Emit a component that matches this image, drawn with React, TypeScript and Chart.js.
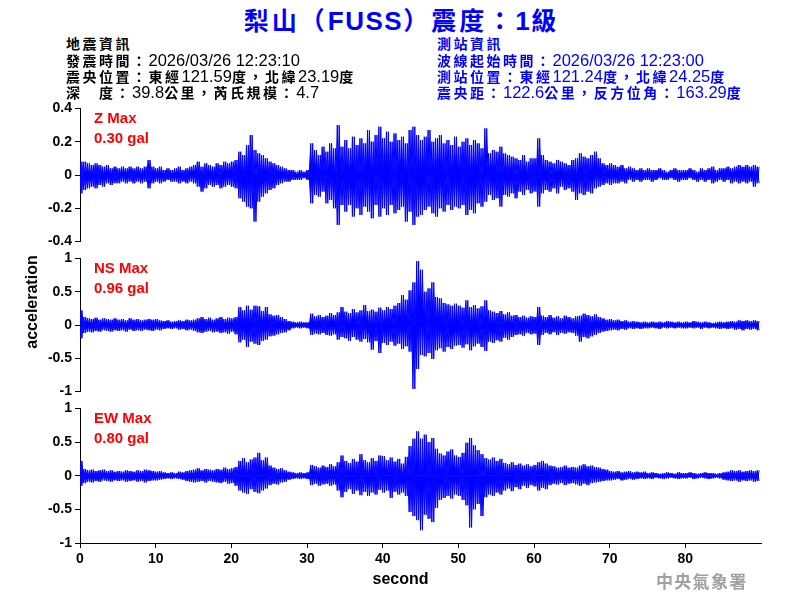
import React, { useEffect, useRef } from 'react';
import { Chart, registerables } from 'chart.js';

Chart.register(...registerables);

// ---- data: waveform envelopes, one value per 0.5 s bin (gal) ----
const BIN_SECONDS = 0.5;
const X_MIN = 0;
const X_MAX = 90;
const X_STEP = 10;

const zUpper = [
  0.08, 0.08, 0.07, 0.06, 0.07, 0.06, 0.05, 0.06, 0.04, 0.05,
  0.04, 0.05, 0.04, 0.05, 0.04, 0.05, 0.04, 0.05, 0.09, 0.05,
  0.04, 0.05, 0.03, 0.04, 0.03, 0.04, 0.05, 0.03, 0.04, 0.05,
  0.06, 0.08, 0.05, 0.07, 0.06, 0.05, 0.07, 0.06, 0.08, 0.07,
  0.08, 0.09, 0.14, 0.12, 0.18, 0.24, 0.15, 0.13, 0.12, 0.10,
  0.08, 0.07, 0.06, 0.05, 0.04, 0.03, 0.03, 0.02, 0.03, 0.02,
  0.03, 0.19, 0.15, 0.12, 0.17, 0.14, 0.19, 0.16, 0.30, 0.17,
  0.21, 0.16, 0.23, 0.18, 0.22, 0.19, 0.27, 0.20, 0.24, 0.29,
  0.22, 0.26, 0.20, 0.25, 0.21, 0.23, 0.19, 0.27, 0.29, 0.24,
  0.21, 0.23, 0.27, 0.20, 0.22, 0.24, 0.19, 0.21, 0.18, 0.23,
  0.17, 0.20, 0.22, 0.18, 0.21, 0.19, 0.16, 0.28, 0.13, 0.15,
  0.14, 0.17, 0.13, 0.12, 0.11, 0.10, 0.09, 0.12, 0.08, 0.10,
  0.10, 0.22, 0.12, 0.09, 0.08, 0.07, 0.09, 0.08, 0.07, 0.06,
  0.09, 0.10, 0.13, 0.11, 0.10, 0.12, 0.14, 0.10, 0.07, 0.06,
  0.07, 0.06, 0.05, 0.06, 0.04, 0.05, 0.04, 0.03, 0.04, 0.03,
  0.04, 0.03, 0.03, 0.04, 0.03, 0.02, 0.03, 0.04, 0.03, 0.03,
  0.03, 0.04, 0.03, 0.02, 0.04, 0.03, 0.04, 0.05, 0.03, 0.04,
  0.04, 0.05, 0.04, 0.05, 0.06, 0.05, 0.06, 0.05, 0.06, 0.05,
];
const zLower = [
  -0.11, -0.09, -0.08, -0.07, -0.08, -0.06, -0.07, -0.05, -0.06, -0.05,
  -0.05, -0.04, -0.05, -0.04, -0.05, -0.04, -0.05, -0.04, -0.08, -0.05,
  -0.04, -0.05, -0.04, -0.03, -0.04, -0.04, -0.05, -0.04, -0.05, -0.04,
  -0.05, -0.07, -0.10, -0.08, -0.06, -0.07, -0.06, -0.08, -0.07, -0.06,
  -0.07, -0.08, -0.14, -0.16, -0.19, -0.20, -0.28, -0.16, -0.13, -0.11,
  -0.09, -0.08, -0.06, -0.05, -0.04, -0.04, -0.03, -0.03, -0.03, -0.02,
  -0.03, -0.17, -0.12, -0.13, -0.10, -0.17, -0.15, -0.20, -0.30, -0.18,
  -0.22, -0.18, -0.25, -0.20, -0.24, -0.19, -0.22, -0.26, -0.18, -0.25,
  -0.20, -0.24, -0.18, -0.23, -0.21, -0.19, -0.28, -0.22, -0.30, -0.25,
  -0.24, -0.21, -0.19, -0.23, -0.25, -0.20, -0.22, -0.18, -0.21, -0.19,
  -0.20, -0.18, -0.24, -0.21, -0.23, -0.17, -0.19, -0.16, -0.12, -0.15,
  -0.14, -0.19, -0.12, -0.13, -0.11, -0.14, -0.10, -0.12, -0.09, -0.11,
  -0.10, -0.19, -0.11, -0.09, -0.10, -0.08, -0.11, -0.07, -0.09, -0.08,
  -0.10, -0.15, -0.11, -0.12, -0.10, -0.11, -0.08, -0.07, -0.06, -0.05,
  -0.06, -0.05, -0.05, -0.04, -0.05, -0.03, -0.04, -0.03, -0.04, -0.03,
  -0.03, -0.04, -0.03, -0.02, -0.03, -0.03, -0.02, -0.03, -0.04, -0.03,
  -0.03, -0.02, -0.03, -0.04, -0.03, -0.04, -0.03, -0.05, -0.04, -0.03,
  -0.04, -0.03, -0.05, -0.04, -0.05, -0.04, -0.05, -0.04, -0.07, -0.05,
];

const nsUpper = [
  0.22, 0.12, 0.10, 0.09, 0.11, 0.08, 0.10, 0.09, 0.08, 0.10,
  0.08, 0.09, 0.07, 0.10, 0.08, 0.09, 0.07, 0.08, 0.09, 0.08,
  0.09, 0.07, 0.06, 0.07, 0.05, 0.06, 0.07, 0.06, 0.08, 0.07,
  0.08, 0.10, 0.12, 0.09, 0.11, 0.08, 0.10, 0.12, 0.09, 0.11,
  0.10, 0.12, 0.27, 0.22, 0.29, 0.23, 0.29, 0.28, 0.21, 0.27,
  0.16, 0.14, 0.15, 0.12, 0.09, 0.06, 0.05, 0.04, 0.05, 0.04,
  0.04, 0.17, 0.13, 0.15, 0.12, 0.14, 0.18, 0.15, 0.19, 0.27,
  0.20, 0.18, 0.24, 0.19, 0.22, 0.30, 0.21, 0.23, 0.20, 0.26,
  0.22, 0.27, 0.24, 0.29, 0.33, 0.45, 0.38, 0.52, 0.64, 0.96,
  0.83, 0.50, 0.55, 0.64, 0.42, 0.40, 0.33, 0.31, 0.29, 0.32,
  0.29, 0.26, 0.37, 0.27, 0.30, 0.25, 0.28, 0.37, 0.22, 0.20,
  0.18, 0.21, 0.16, 0.19, 0.14, 0.15, 0.12, 0.14, 0.11, 0.13,
  0.12, 0.27, 0.14, 0.12, 0.15, 0.11, 0.13, 0.10, 0.14, 0.12,
  0.10, 0.13, 0.14, 0.17, 0.15, 0.13, 0.16, 0.12, 0.10, 0.08,
  0.09, 0.07, 0.08, 0.06, 0.07, 0.05, 0.06, 0.05, 0.04, 0.05,
  0.04, 0.05, 0.04, 0.05, 0.04, 0.06, 0.05, 0.04, 0.05, 0.04,
  0.05, 0.04, 0.06, 0.05, 0.04, 0.05, 0.04, 0.03, 0.04, 0.05,
  0.04, 0.05, 0.06, 0.05, 0.07, 0.06, 0.07, 0.06, 0.07, 0.06,
];
const nsLower = [
  -0.20, -0.12, -0.10, -0.11, -0.09, -0.10, -0.08, -0.09, -0.10, -0.08,
  -0.09, -0.08, -0.10, -0.07, -0.09, -0.08, -0.09, -0.07, -0.08, -0.09,
  -0.07, -0.08, -0.06, -0.05, -0.06, -0.05, -0.07, -0.06, -0.08, -0.07,
  -0.09, -0.11, -0.12, -0.10, -0.09, -0.11, -0.10, -0.12, -0.11, -0.13,
  -0.10, -0.14, -0.26, -0.22, -0.33, -0.25, -0.28, -0.30, -0.24, -0.22,
  -0.17, -0.16, -0.14, -0.12, -0.11, -0.08, -0.05, -0.04, -0.05, -0.04,
  -0.05, -0.15, -0.13, -0.14, -0.12, -0.15, -0.16, -0.14, -0.22, -0.18,
  -0.20, -0.24, -0.18, -0.22, -0.25, -0.21, -0.26, -0.37, -0.24, -0.42,
  -0.27, -0.30, -0.25, -0.31, -0.28, -0.36, -0.32, -0.40, -0.96, -0.66,
  -0.45, -0.47, -0.42, -0.51, -0.38, -0.35, -0.40, -0.33, -0.36, -0.31,
  -0.30, -0.34, -0.29, -0.38, -0.32, -0.28, -0.33, -0.39, -0.25, -0.27,
  -0.23, -0.25, -0.19, -0.22, -0.18, -0.15, -0.14, -0.16, -0.12, -0.14,
  -0.13, -0.30, -0.15, -0.12, -0.14, -0.11, -0.15, -0.12, -0.13, -0.11,
  -0.12, -0.16, -0.25, -0.18, -0.20, -0.17, -0.15, -0.12, -0.10, -0.09,
  -0.08, -0.07, -0.08, -0.06, -0.07, -0.05, -0.06, -0.05, -0.06, -0.05,
  -0.05, -0.04, -0.05, -0.06, -0.04, -0.05, -0.04, -0.05, -0.04, -0.05,
  -0.05, -0.04, -0.05, -0.04, -0.06, -0.04, -0.05, -0.04, -0.05, -0.06,
  -0.05, -0.06, -0.05, -0.07, -0.06, -0.08, -0.06, -0.07, -0.06, -0.08,
];

const ewUpper = [
  0.22, 0.10, 0.08, 0.09, 0.07, 0.08, 0.09, 0.07, 0.08, 0.06,
  0.07, 0.06, 0.08, 0.07, 0.06, 0.08, 0.07, 0.09, 0.08, 0.07,
  0.06, 0.07, 0.05, 0.04, 0.05, 0.04, 0.06, 0.05, 0.07, 0.08,
  0.09, 0.11, 0.08, 0.10, 0.09, 0.08, 0.10, 0.09, 0.12, 0.10,
  0.11, 0.13, 0.22, 0.26, 0.20, 0.24, 0.27, 0.34, 0.23, 0.27,
  0.15, 0.12, 0.10, 0.11, 0.08, 0.06, 0.05, 0.04, 0.05, 0.04,
  0.05, 0.16, 0.14, 0.12, 0.15, 0.13, 0.17, 0.14, 0.20, 0.30,
  0.22, 0.19, 0.25, 0.21, 0.32, 0.23, 0.20, 0.26, 0.22, 0.30,
  0.29, 0.23, 0.27, 0.21, 0.25, 0.18, 0.28, 0.44, 0.55, 0.66,
  0.55, 0.61, 0.50, 0.56, 0.40, 0.33, 0.30, 0.36, 0.39, 0.30,
  0.28, 0.34, 0.49, 0.56, 0.45, 0.38, 0.32, 0.26, 0.24, 0.27,
  0.22, 0.25, 0.19, 0.17, 0.20, 0.16, 0.18, 0.15, 0.17, 0.14,
  0.16, 0.20, 0.22, 0.18, 0.15, 0.14, 0.12, 0.13, 0.15, 0.12,
  0.13, 0.12, 0.15, 0.17, 0.14, 0.15, 0.13, 0.12, 0.10, 0.09,
  0.07, 0.06, 0.07, 0.05, 0.06, 0.07, 0.05, 0.06, 0.05, 0.06,
  0.04, 0.05, 0.04, 0.03, 0.04, 0.05, 0.04, 0.03, 0.05, 0.04,
  0.04, 0.05, 0.04, 0.03, 0.04, 0.05, 0.04, 0.04, 0.03, 0.04,
  0.05, 0.06, 0.08, 0.07, 0.08, 0.06, 0.07, 0.08, 0.07, 0.08,
];
const ewLower = [
  -0.15, -0.11, -0.09, -0.10, -0.08, -0.09, -0.07, -0.08, -0.09, -0.07,
  -0.08, -0.07, -0.09, -0.08, -0.07, -0.09, -0.08, -0.10, -0.08, -0.07,
  -0.07, -0.06, -0.05, -0.04, -0.05, -0.04, -0.05, -0.06, -0.08, -0.09,
  -0.10, -0.09, -0.08, -0.10, -0.08, -0.09, -0.10, -0.11, -0.09, -0.12,
  -0.11, -0.15, -0.22, -0.25, -0.27, -0.20, -0.24, -0.26, -0.22, -0.19,
  -0.14, -0.12, -0.13, -0.10, -0.09, -0.06, -0.05, -0.04, -0.05, -0.04,
  -0.05, -0.14, -0.12, -0.15, -0.13, -0.12, -0.15, -0.13, -0.22, -0.32,
  -0.24, -0.20, -0.27, -0.22, -0.29, -0.24, -0.30, -0.25, -0.28, -0.21,
  -0.25, -0.22, -0.33, -0.24, -0.28, -0.25, -0.30, -0.54, -0.60, -0.66,
  -0.81, -0.58, -0.64, -0.69, -0.48, -0.36, -0.33, -0.30, -0.34, -0.28,
  -0.30, -0.36, -0.44, -0.77, -0.50, -0.42, -0.60, -0.32, -0.28, -0.30,
  -0.25, -0.28, -0.22, -0.19, -0.23, -0.17, -0.20, -0.15, -0.18, -0.14,
  -0.16, -0.22, -0.18, -0.20, -0.14, -0.12, -0.13, -0.11, -0.14, -0.12,
  -0.11, -0.13, -0.15, -0.12, -0.14, -0.11, -0.10, -0.09, -0.08, -0.07,
  -0.07, -0.06, -0.05, -0.07, -0.06, -0.05, -0.06, -0.05, -0.04, -0.05,
  -0.04, -0.05, -0.03, -0.04, -0.05, -0.04, -0.03, -0.04, -0.05, -0.04,
  -0.04, -0.03, -0.05, -0.04, -0.03, -0.04, -0.05, -0.04, -0.03, -0.04,
  -0.06, -0.07, -0.08, -0.07, -0.09, -0.07, -0.08, -0.07, -0.09, -0.08,
];

// ---- text ----
const TITLE = '梨山（FUSS）震度：1級';
const QUAKE_INFO = [
  '地震資訊',
  '發震時間：2026/03/26 12:23:10',
  '震央位置：東經121.59度，北緯23.19度',
  '深　度：39.8公里，芮氏規模：4.7',
];
const STATION_INFO = [
  '測站資訊',
  '波線起始時間：2026/03/26 12:23:00',
  '測站位置：東經121.24度，北緯24.25度',
  '震央距：122.6公里，反方位角：163.29度',
];
const PANEL_NAMES = ['Z Max', 'NS Max', 'EW Max'];
const PANEL_MAX = ['0.30 gal', '0.96 gal', '0.80 gal'];
const Y_TITLE = 'acceleration';
const X_TITLE = 'second';
const AGENCY = '中央氣象署';

const LATIN = '"Liberation Sans", Arial, Helvetica, sans-serif';
const CJK = '"Noto Sans CJK TC", "Noto Sans CJK SC", sans-serif';
const BLUE = '#0000ff';

// trace through each bin's extremes; `maxFirst` picks which extreme of the bin is drawn first
function zigzag(upper: number[], lower: number[], maxFirst: boolean) {
  const pts: { x: number; y: number }[] = [];
  for (let i = 0; i < upper.length; i++) {
    const t = i * BIN_SECONDS;
    pts.push({ x: t, y: maxFirst ? upper[i] : lower[i] });
    pts.push({ x: t + BIN_SECONDS / 2, y: maxFirst ? lower[i] : upper[i] });
  }
  return pts;
}

type PanelProps = {
  upper: number[];
  lower: number[];
  yMin: number;
  yMax: number;
  yStep: number;
  showX: boolean;
  top: number;
  height: number;
};

const tickFont = { family: LATIN, size: 14, weight: 'bold' as const };

function Panel({ upper, lower, yMin, yMax, yStep, showX, top, height }: PanelProps) {
  const ref = useRef<HTMLCanvasElement>(null);
  useEffect(() => {
    if (!ref.current) return;
    const trace = (maxFirst: boolean) => ({
      data: zigzag(upper, lower, maxFirst),
      borderColor: BLUE,
      backgroundColor: BLUE,
      borderWidth: 1,
      pointRadius: 0,
      tension: 0,
      fill: 'origin' as const,
    });
    const chart = new Chart(ref.current, {
      type: 'line',
      data: { datasets: [trace(true), trace(false)] },
      options: {
        animation: false,
        responsive: false,
        devicePixelRatio: 1,
        events: [],
        layout: { padding: { top: 10, bottom: showX ? 0 : 10, left: 0, right: 39 } },
        plugins: { legend: { display: false }, tooltip: { enabled: false } },
        scales: {
          x: {
            type: 'linear',
            min: X_MIN,
            max: X_MAX,
            display: showX,
            grid: { display: true, drawOnChartArea: false, drawTicks: true, tickLength: 5, color: '#000' },
            border: { display: true, color: '#000', width: 1 },
            ticks: { stepSize: X_STEP, color: '#000', font: tickFont, padding: 3, maxRotation: 0 },
            afterBuildTicks: (s: any) => {
              s.ticks = s.ticks.filter((t: any) => t.value < X_MAX);
            },
            afterFit: (s: any) => {
              if (showX) s.height = 57;
            },
          },
          y: {
            type: 'linear',
            min: yMin,
            max: yMax,
            grid: { display: true, drawOnChartArea: false, drawTicks: true, tickLength: 5, color: '#000' },
            border: { display: true, color: '#000', width: 1 },
            ticks: {
              stepSize: yStep,
              color: '#000',
              font: tickFont,
              padding: 3,
              callback: (v: any) => String(Math.round(Number(v) * 100) / 100),
            },
            afterFit: (s: any) => {
              s.width = 80;
            },
          },
        },
      },
    });
    return () => chart.destroy();
  }, []);
  return (
    <canvas
      ref={ref}
      width={800}
      height={height}
      style={{ position: 'absolute', left: 0, top, width: 800, height }}
    />
  );
}

const CJK_RE = /([\u3000-\u303f\u3400-\u9fff\uff00-\uffef]+)/;

function Mixed({ text, cjk, latin }: { text: string; cjk: React.CSSProperties; latin: React.CSSProperties }) {
  return (
    <>
      {text
        .split(CJK_RE)
        .filter((s) => s.length > 0)
        .map((s, i) => (
          <span key={i} style={CJK_RE.test(s) ? cjk : latin}>
            {s}
          </span>
        ))}
    </>
  );
}

const infoCjk: React.CSSProperties = { fontFamily: CJK, fontSize: 14, fontWeight: 'bold', letterSpacing: 2.5 };
const infoLatin: React.CSSProperties = { fontFamily: LATIN, fontSize: 16.5, fontWeight: 'normal' };
const INFO_CENTERS = [43, 59.5, 75.5, 91.5];

function InfoBlock({ lines, left, color }: { lines: string[]; left: number; color: string }) {
  return (
    <>
      {lines.map((line, i) => (
        <div
          key={i}
          style={{
            position: 'absolute',
            left,
            top: INFO_CENTERS[i] - 10,
            height: 20,
            lineHeight: '20px',
            color,
            whiteSpace: 'nowrap',
          }}
        >
          <Mixed text={line} cjk={infoCjk} latin={infoLatin} />
        </div>
      ))}
    </>
  );
}

const LABEL_CENTERS = [
  [118, 137.5],
  [267.5, 288],
  [417.5, 438],
];

export default function App() {
  const panels = [
    { upper: zUpper, lower: zLower, yMin: -0.4, yMax: 0.4, yStep: 0.2, showX: false, top: 97, height: 156 },
    { upper: nsUpper, lower: nsLower, yMin: -1, yMax: 1, yStep: 0.5, showX: false, top: 247, height: 156 },
    { upper: ewUpper, lower: ewLower, yMin: -1, yMax: 1, yStep: 0.5, showX: true, top: 397, height: 203 },
  ];
  const redLabel: React.CSSProperties = {
    position: 'absolute',
    left: 94,
    height: 18,
    lineHeight: '18px',
    color: '#ff0000',
    fontFamily: LATIN,
    fontSize: 15,
    fontWeight: 'bold',
    whiteSpace: 'nowrap',
  };
  return (
    <div
      style={{
        position: 'absolute',
        left: 0,
        top: 0,
        width: 800,
        height: 600,
        background: '#fff',
        overflow: 'hidden',
        fontFamily: LATIN,
      }}
    >
      {panels.map((p, i) => (
        <Panel key={i} {...p} />
      ))}

      <div
        style={{
          position: 'absolute',
          left: 0,
          top: 3,
          width: 803,
          height: 32,
          lineHeight: '32px',
          textAlign: 'center',
          color: BLUE,
          whiteSpace: 'nowrap',
        }}
      >
        <Mixed
          text={TITLE}
          cjk={{ fontFamily: CJK, fontSize: 25, fontWeight: 'bold', letterSpacing: 3 }}
          latin={{ fontFamily: LATIN, fontSize: 26, fontWeight: 'bold', letterSpacing: 1.5 }}
        />
      </div>

      <InfoBlock lines={QUAKE_INFO} left={66} color="#000" />
      <InfoBlock lines={STATION_INFO} left={437} color={BLUE} />

      {PANEL_NAMES.map((name, i) => (
        <React.Fragment key={name}>
          <div style={{ ...redLabel, top: LABEL_CENTERS[i][0] - 9 }}>{name}</div>
          <div style={{ ...redLabel, top: LABEL_CENTERS[i][1] - 9 }}>{PANEL_MAX[i]}</div>
        </React.Fragment>
      ))}

      <div
        style={{
          position: 'absolute',
          left: 32 - 60,
          top: 302 - 10,
          width: 120,
          height: 20,
          lineHeight: '20px',
          textAlign: 'center',
          transform: 'rotate(-90deg)',
          fontFamily: LATIN,
          fontSize: 16,
          fontWeight: 'bold',
          color: '#000',
        }}
      >
        {Y_TITLE}
      </div>

      <div
        style={{
          position: 'absolute',
          left: 340,
          top: 579 - 10,
          width: 121,
          height: 20,
          lineHeight: '20px',
          textAlign: 'center',
          fontFamily: LATIN,
          fontSize: 16,
          fontWeight: 'bold',
          color: '#000',
        }}
      >
        {X_TITLE}
      </div>

      <div
        style={{
          position: 'absolute',
          left: 656,
          top: 581 - 11,
          height: 22,
          lineHeight: '22px',
          fontFamily: CJK,
          fontSize: 17,
          fontWeight: 'bold',
          letterSpacing: 1.3,
          color: '#a0a0a0',
          whiteSpace: 'nowrap',
        }}
      >
        {AGENCY}
      </div>
    </div>
  );
}
